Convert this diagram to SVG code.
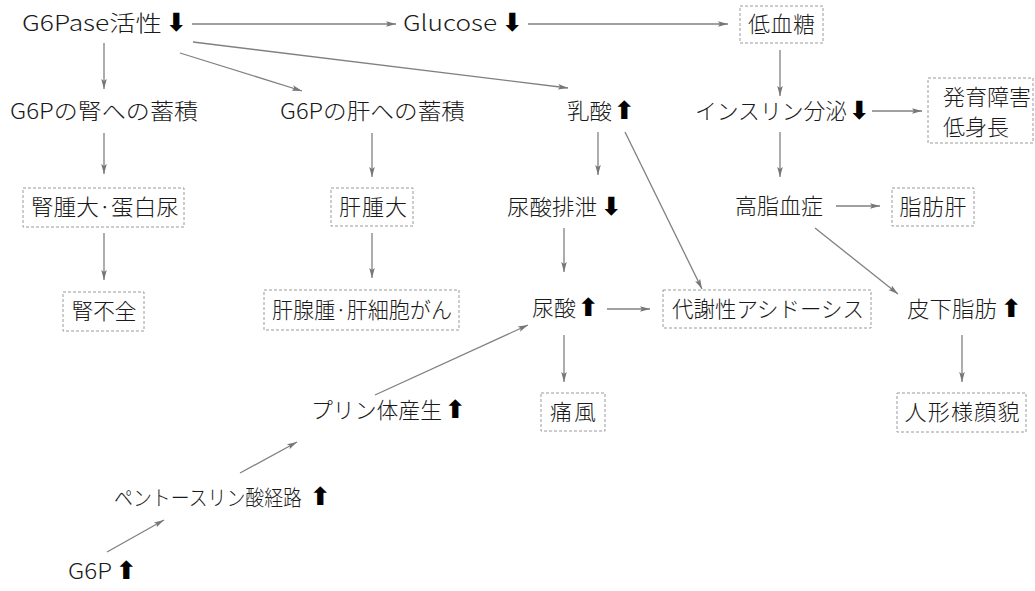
<svg xmlns="http://www.w3.org/2000/svg" width="1035" height="591" viewBox="0 0 1035 591">
<style>
text{font-family:"Noto Sans CJK JP","Noto Sans",sans-serif;font-size:22px;font-weight:300;fill:#1a1a1a}
.ar{font-family:"DejaVu Sans",sans-serif;font-size:25px;font-weight:700;fill:#000}
.box{fill:none;stroke:#9a9a9a;stroke-width:1;stroke-dasharray:3 2}
.c{stroke:#808080;stroke-width:1.3;fill:none;marker-end:url(#ah)}
.m{text-anchor:middle}
.s21{font-size:21px}
</style>
<defs>
<marker id="ah" markerUnits="userSpaceOnUse" markerWidth="10" markerHeight="8" refX="10" refY="4" orient="auto">
<path d="M0,1.2 L10,4 L0,6.8 L2,4 z" fill="#777"/>
</marker>
</defs>
<rect width="1035" height="591" fill="#fff"/>
<g id="connectors">
<line class="c" x1="192" y1="24" x2="396" y2="24"/>
<line class="c" x1="528" y1="24" x2="728" y2="24"/>
<line class="c" x1="104" y1="43" x2="104" y2="89"/>
<line class="c" x1="180" y1="53" x2="302" y2="91"/>
<line class="c" x1="193" y1="42" x2="568" y2="88"/>
<line class="c" x1="780" y1="50" x2="780" y2="96"/>
<line class="c" x1="872" y1="111" x2="922" y2="111"/>
<line class="c" x1="104" y1="133" x2="104" y2="174"/>
<line class="c" x1="372" y1="133" x2="372" y2="177"/>
<line class="c" x1="598" y1="132" x2="598" y2="175"/>
<line class="c" x1="625" y1="132" x2="702" y2="289"/>
<line class="c" x1="780" y1="132" x2="780" y2="177"/>
<line class="c" x1="836" y1="206" x2="880" y2="206"/>
<line class="c" x1="815" y1="228" x2="898" y2="294"/>
<line class="c" x1="104" y1="233" x2="104" y2="280"/>
<line class="c" x1="372" y1="233" x2="372" y2="278"/>
<line class="c" x1="564" y1="228" x2="564" y2="272"/>
<line class="c" x1="607" y1="309" x2="650" y2="309"/>
<line class="c" x1="564" y1="335" x2="564" y2="382"/>
<line class="c" x1="962" y1="335" x2="962" y2="382"/>
<line class="c" x1="375" y1="395" x2="528" y2="325"/>
<line class="c" x1="240" y1="473" x2="297" y2="442"/>
<line class="c" x1="107" y1="552" x2="164" y2="520"/>
</g>
<g id="n-g6pase"><text x="22" y="31"><tspan textLength="140" lengthAdjust="spacingAndGlyphs">G6Pase活性</tspan><tspan class="ar" x="166">⬇</tspan></text></g>
<g id="n-glucose"><text x="403" y="31"><tspan textLength="94" lengthAdjust="spacingAndGlyphs">Glucose</tspan><tspan class="ar" x="502">⬇</tspan></text></g>
<g id="n-hypoglycemia"><rect class="box" x="740" y="6" width="83" height="37"/><text class="m" x="781.5" y="32" textLength="67" lengthAdjust="spacing">低血糖</text></g>
<g id="n-g6p-kidney"><text x="10" y="119" textLength="188" lengthAdjust="spacingAndGlyphs">G6Pの腎への蓄積</text></g>
<g id="n-g6p-liver"><text x="280" y="119" textLength="185" lengthAdjust="spacingAndGlyphs">G6Pの肝への蓄積</text></g>
<g id="n-lactate"><text x="567" y="119"><tspan textLength="45" lengthAdjust="spacingAndGlyphs">乳酸</tspan><tspan class="ar" x="614">⬆</tspan></text></g>
<g id="n-insulin"><text x="695" y="119"><tspan textLength="152" lengthAdjust="spacingAndGlyphs">インスリン分泌</tspan><tspan class="ar" x="849">⬇</tspan></text></g>
<g id="n-growth"><rect class="box" x="928" y="78" width="105" height="65"/><text x="943" y="105" textLength="88" lengthAdjust="spacing">発育障害</text><text x="943" y="135" textLength="66" lengthAdjust="spacing">低身長</text></g>
<g id="n-kidney-swelling"><rect class="box" x="23" y="188" width="161" height="39"/><text class="m" x="105" y="215" textLength="148" lengthAdjust="spacingAndGlyphs">腎腫大·蛋白尿</text></g>
<g id="n-liver-swelling"><rect class="box" x="331" y="188" width="82" height="38"/><text class="m" x="373" y="215" textLength="68" lengthAdjust="spacing">肝腫大</text></g>
<g id="n-uric-excretion"><text x="507" y="215"><tspan textLength="90" lengthAdjust="spacingAndGlyphs">尿酸排泄</tspan><tspan class="ar" x="601">⬇</tspan></text></g>
<g id="n-hyperlipidemia"><text x="735" y="214" textLength="88" lengthAdjust="spacing">高脂血症</text></g>
<g id="n-fatty-liver"><rect class="box" x="892" y="188" width="82" height="38"/><text class="m" x="933" y="215" textLength="67" lengthAdjust="spacing">脂肪肝</text></g>
<g id="n-renal-failure"><rect class="box" x="63" y="292" width="81" height="39"/><text class="m" x="104" y="319" textLength="65" lengthAdjust="spacing">腎不全</text></g>
<g id="n-hepatic-adenoma"><rect class="box" x="264" y="290" width="195" height="40"/><text class="m" x="362" y="318" textLength="180" lengthAdjust="spacingAndGlyphs">肝腺腫·肝細胞がん</text></g>
<g id="n-uric-acid"><text x="532" y="316"><tspan textLength="44" lengthAdjust="spacingAndGlyphs">尿酸</tspan><tspan class="ar" x="578">⬆</tspan></text></g>
<g id="n-acidosis"><rect class="box" x="663" y="290" width="208" height="38"/><text class="m" x="768" y="317" textLength="192" lengthAdjust="spacingAndGlyphs">代謝性アシドーシス</text></g>
<g id="n-subcutaneous-fat"><text x="907" y="317"><tspan textLength="90" lengthAdjust="spacingAndGlyphs">皮下脂肪</tspan><tspan class="ar" x="1001">⬆</tspan></text></g>
<g id="n-gout"><rect class="box" x="541" y="393" width="64" height="38"/><text class="m" x="573" y="420" textLength="46" lengthAdjust="spacing">痛風</text></g>
<g id="n-doll-face"><rect class="box" x="897" y="393" width="129" height="39"/><text class="m" x="962" y="420" textLength="115" lengthAdjust="spacing">人形様顔貌</text></g>
<g id="n-purine"><text x="311" y="418"><tspan textLength="131" lengthAdjust="spacingAndGlyphs">プリン体産生</tspan><tspan class="ar" x="445">⬆</tspan></text></g>
<g id="n-pentose"><text class="s21" x="114" y="505"><tspan textLength="188" lengthAdjust="spacingAndGlyphs">ペントースリン酸経路</tspan><tspan class="ar" x="310">⬆</tspan></text></g>
<g id="n-g6p-up"><text x="68" y="579"><tspan textLength="44" lengthAdjust="spacingAndGlyphs">G6P</tspan><tspan class="ar" x="116">⬆</tspan></text></g>
</svg>
